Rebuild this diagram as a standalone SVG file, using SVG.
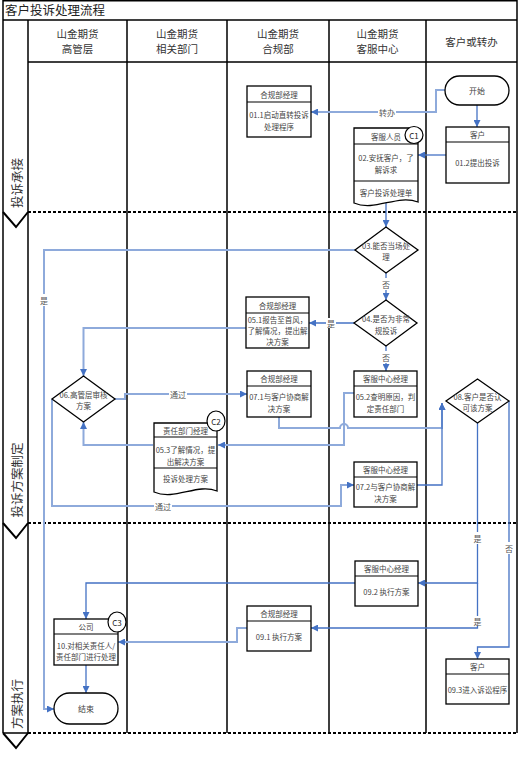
<svg xmlns="http://www.w3.org/2000/svg" width="530" height="763" viewBox="0 0 530 763">
<style>
text{font-family:"Noto Sans CJK SC","Noto Sans",sans-serif;dominant-baseline:central;text-anchor:middle}
.title{font-size:12.5px;fill:#222;text-anchor:start}
.colh{font-size:10.5px;fill:#333}
.phase{font-size:12.5px;fill:#333}
.frame{fill:none;stroke:#000;stroke-width:1.5}
.dash{fill:none;stroke:#000;stroke-width:2;stroke-dasharray:3 2}
.chev{fill:none;stroke:#000;stroke-width:2}
.box{fill:#fff;stroke:#000;stroke-width:1.3}
.sep{stroke:#000;stroke-width:1.2}
.t{font-size:7.5px;fill:#444}
.cc{fill:#fff;stroke:#000;stroke-width:1.2}
.ct{font-size:8px;fill:#222}
.dk{fill:none;stroke:#4472c4;stroke-width:1.3;marker-end:url(#ah)}
.lt{fill:none;stroke:#8eaadb;stroke-width:2;marker-end:url(#ah)}
.lb{fill:#fff}
.lbl{font-size:8px;fill:#555}
</style>
<defs>
<marker id="ah" markerUnits="userSpaceOnUse" markerWidth="7" markerHeight="7" refX="7" refY="3.5" orient="auto">
<path d="M0,0 L7,3.5 L0,7 z" fill="#4472c4"/>
</marker>
</defs>
<rect width="530" height="763" fill="#fff"/>
<g id="frame">
<path class="frame" d="M3,0.7 H517 M3,0 V733 M517,0 V733 M3,20 H517 M28,20 V733 M28,62 H517 M127,20 V733 M227,20 V733 M329,20 V733 M426,20 V733 M3,733 H28"/>
<path class="dash" d="M28,212 H517 M28,523 H517 M28,733 H517"/>
<path class="chev" d="M3,212 L16,227 L28,212 M3,523 L16,538 L28,523 M3,733 L16,748 L28,733"/>
<text class="title" x="5" y="9">客户投诉处理流程</text>
<text class="colh" x="77.5" y="33.5">山金期货</text><text class="colh" x="77.5" y="48.5">高管层</text>
<text class="colh" x="177" y="33.5">山金期货</text><text class="colh" x="177" y="48.5">相关部门</text>
<text class="colh" x="278" y="33.5">山金期货</text><text class="colh" x="278" y="48.5">合规部</text>
<text class="colh" x="377.5" y="33.5">山金期货</text><text class="colh" x="377.5" y="48.5">客服中心</text>
<text class="colh" x="471.5" y="41">客户或转办</text>
<text class="phase" x="16" y="183" transform="rotate(-90 16 183)">投诉承接</text>
<text class="phase" x="16" y="480" transform="rotate(-90 16 480)">投诉方案制定</text>
<text class="phase" x="16" y="704" transform="rotate(-90 16 704)">方案执行</text>
</g>
<g id="connectors">
<path class="lt" d="M445,90 H436 V112 H311"/>
<path class="dk" d="M477,105 V127"/>
<path class="dk" d="M446,155 H418"/>
<path class="dk" d="M386,203 V227"/>
<path class="lt" d="M355,250 H44 V709 H54"/>
<path class="dk" d="M386,273 V300"/>
<path class="dk" d="M354,323 H309"/>
<path class="dk" d="M386,346 V371"/>
<path class="lt" d="M246,328 H83.5 V376"/>
<path class="lt" d="M115,399 H125 V394 H247"/>
<path class="lt" d="M52,399 V506 H341 V485 H354"/>
<path class="lt" d="M354,393 H344 V445 H218"/>
<path class="lt" d="M153,445 H83.5 V422"/>
<path class="lt" d="M279,417 V428 H340 a4,4 0 0 1 8,0 H442 V403"/>
<path class="dk" d="M417,485 H442 V403"/>
<path class="dk" d="M477.5,423 V583 H418"/>
<path class="dk" d="M477.5,583 V628 H311"/>
<path class="dk" d="M509,401 V647 H477.5 V659"/>
<path class="dk" d="M355,583 H86 V619"/>
<path class="lt" d="M247,628 H237 V642 H118"/>
<path class="dk" d="M86,665 V693"/>
<rect class="lb" x="378" y="107" width="18" height="10"/><text class="lbl" x="387" y="112">转办</text>
<rect class="lb" x="39" y="294" width="10" height="12"/><text class="lbl" x="44" y="300">是</text>
<rect class="lb" x="381" y="278" width="10" height="12"/><text class="lbl" x="386" y="284">否</text>
<rect class="lb" x="326" y="318" width="10" height="10"/><text class="lbl" x="331" y="323">是</text>
<rect class="lb" x="381" y="351" width="10" height="12"/><text class="lbl" x="386" y="357">否</text>
<rect class="lb" x="169" y="389" width="18" height="10"/><text class="lbl" x="178" y="394">通过</text>
<rect class="lb" x="154" y="501" width="18" height="10"/><text class="lbl" x="163" y="506">通过</text>
<rect class="lb" x="472.5" y="532" width="10" height="12"/><text class="lbl" x="477.5" y="538">是</text>
<rect class="lb" x="472.5" y="616" width="10" height="10"/><text class="lbl" x="477.5" y="621.5">是</text>
<rect class="lb" x="504" y="542" width="10" height="12"/><text class="lbl" x="509" y="548">否</text>
</g>
<g id="n_start"><rect class="box" x="445" y="76" width="64" height="29" rx="14.5"/><text class="t" x="477" y="90.5" style="font-size:8px">开始</text></g>
<g id="n_01_2"><rect class="box" x="446" y="127" width="63" height="56"/><line class="sep" x1="446" y1="142" x2="509" y2="142"/><text class="t" x="477.5" y="134.5">客户</text><text class="t" x="477.5" y="162">01.2提出投诉</text></g>
<g id="n_01_1"><rect class="box" x="247" y="86" width="64" height="51"/><line class="sep" x1="247" y1="102" x2="311" y2="102"/><text class="t" x="279" y="94">合规部经理</text><text class="t" x="279" y="114">01.1启动直转投诉</text><text class="t" x="279" y="126">处理程序</text></g>
<g id="n_02"><path class="box" d="M354,128 H418 V202 C397,194 375,212 354,203 Z"/><line class="sep" x1="354" y1="144" x2="418" y2="144"/><line class="sep" x1="354" y1="181" x2="418" y2="181"/><text class="t" x="386" y="136">客服人员</text><text class="t" x="386" y="157">02.安抚客户，了</text><text class="t" x="386" y="169">解诉求</text><text class="t" x="386" y="192">客户投诉处理单</text><ellipse class="cc" cx="414" cy="135" rx="9" ry="8.5"/><text class="ct" x="414" y="135">C1</text></g>
<g id="n_03"><polygon class="box" points="386,227 418,250 386,273 355,250"/><text class="t" x="386" y="245">03.能否当场处</text><text class="t" x="386" y="256">理</text></g>
<g id="n_04"><polygon class="box" points="386,300 417,323 386,346 354,323"/><text class="t" x="386" y="318">04.是否为非常</text><text class="t" x="386" y="330">规投诉</text></g>
<g id="n_05_1"><rect class="box" x="246" y="297" width="63" height="51"/><line class="sep" x1="246" y1="313" x2="309" y2="313"/><text class="t" x="277.5" y="305">合规部经理</text><text class="t" x="277.5" y="319">05.1报告至首风，</text><text class="t" x="277.5" y="330">了解情况，提出解</text><text class="t" x="277.5" y="341">决方案</text></g>
<g id="n_06"><polygon class="box" points="83.5,376 115,399 83.5,422 52,399"/><text class="t" x="83.5" y="394">06.高管层审核</text><text class="t" x="83.5" y="405">方案</text></g>
<g id="n_07_1"><rect class="box" x="247" y="371" width="64" height="46"/><line class="sep" x1="247" y1="386" x2="311" y2="386"/><text class="t" x="279" y="378.5">合规部经理</text><text class="t" x="279" y="396">07.1与客户协商解</text><text class="t" x="279" y="408">决方案</text></g>
<g id="n_05_2"><rect class="box" x="354" y="371" width="63" height="46"/><line class="sep" x1="354" y1="386" x2="417" y2="386"/><text class="t" x="385.5" y="378.5">客服中心经理</text><text class="t" x="385.5" y="396">05.2查明原因，判</text><text class="t" x="385.5" y="408">定责任部门</text></g>
<g id="n_05_3"><path class="box" d="M154,423 H217 V491 C197,483 175,501 154,492 Z"/><line class="sep" x1="154" y1="437" x2="217" y2="437"/><line class="sep" x1="154" y1="468" x2="217" y2="468"/><text class="t" x="185.5" y="430">责任部门经理</text><text class="t" x="185.5" y="449">05.3了解情况，提</text><text class="t" x="185.5" y="461">出解决方案</text><text class="t" x="185.5" y="478">投诉处理方案</text><ellipse class="cc" cx="216" cy="421" rx="9" ry="10"/><text class="ct" x="216" y="421">C2</text></g>
<g id="n_07_2"><rect class="box" x="354" y="462" width="63" height="45"/><line class="sep" x1="354" y1="477" x2="417" y2="477"/><text class="t" x="385.5" y="469.5">客服中心经理</text><text class="t" x="385.5" y="486">07.2与客户协商解</text><text class="t" x="385.5" y="498">决方案</text></g>
<g id="n_08"><polygon class="box" points="477.5,379 509,401 477.5,423 446,401"/><text class="t" x="477.5" y="396">08.客户是否认</text><text class="t" x="477.5" y="407">可该方案</text></g>
<g id="n_09_2"><rect class="box" x="355" y="561" width="63" height="45"/><line class="sep" x1="355" y1="576" x2="418" y2="576"/><text class="t" x="386.5" y="568.5">客服中心经理</text><text class="t" x="386.5" y="591">09.2 执行方案</text></g>
<g id="n_09_1"><rect class="box" x="247" y="606" width="64" height="45"/><line class="sep" x1="247" y1="621" x2="311" y2="621"/><text class="t" x="279" y="613.5">合规部经理</text><text class="t" x="279" y="636">09.1 执行方案</text></g>
<g id="n_10"><rect class="box" x="54" y="619" width="64" height="46"/><line class="sep" x1="54" y1="634" x2="118" y2="634"/><text class="t" x="86" y="626.5">公司</text><text class="t" x="86" y="645">10.对相关责任人/</text><text class="t" x="86" y="656">责任部门进行处理</text><ellipse class="cc" cx="117" cy="622" rx="9" ry="10"/><text class="ct" x="117" y="622">C3</text></g>
<g id="n_end"><rect class="box" x="54" y="693" width="64" height="31" rx="15.5"/><text class="t" x="86" y="708.5" style="font-size:8px">结束</text></g>
<g id="n_09_3"><rect class="box" x="446" y="659" width="63" height="45"/><line class="sep" x1="446" y1="674" x2="509" y2="674"/><text class="t" x="477.5" y="666.5">客户</text><text class="t" x="477.5" y="689">09.3进入诉讼程序</text></g>
</svg>
